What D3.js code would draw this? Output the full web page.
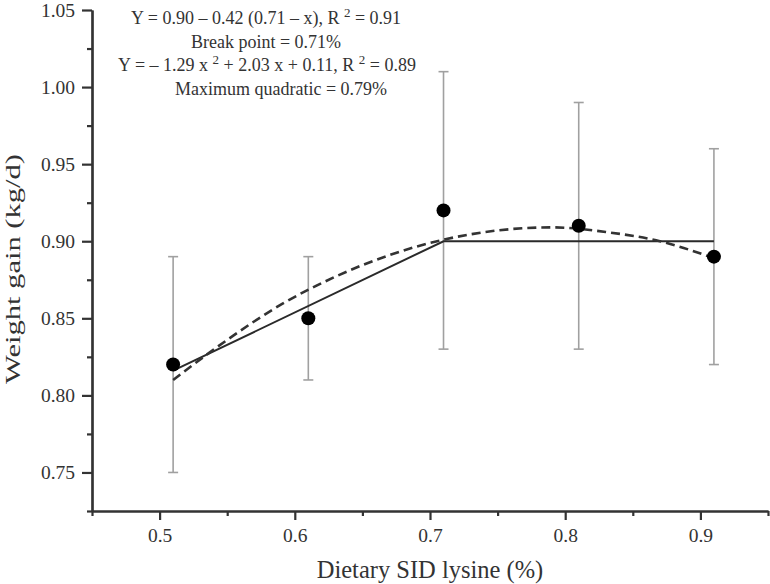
<!DOCTYPE html>
<html>
<head>
<meta charset="utf-8">
<script src="https://cdn.jsdelivr.net/npm/d3@7"></script>
<style>
  body { margin: 0; background: #fff; }
  svg { font-family: "Liberation Serif", "DejaVu Serif", serif; }
</style>
</head>
<body>
<script>
'use strict';
// observed means and error bars
var lysine = [0.51, 0.61, 0.71, 0.81, 0.91];
var gain = [0.82, 0.85, 0.92, 0.91, 0.89];
var gainLow = [0.75, 0.81, 0.83, 0.83, 0.82];
var gainHigh = [0.89, 0.89, 1.01, 0.99, 0.96];

// broken-line fit
var brokenX = [0.51, 0.71, 0.91];
var brokenY = [0.816, 0.90, 0.90];

// quadratic fit
var quadX = [0.51, 0.55, 0.59, 0.63, 0.67, 0.71, 0.75, 0.79, 0.83, 0.87, 0.91];
var quadY = [0.810, 0.836, 0.859, 0.877, 0.891, 0.901, 0.907, 0.909, 0.906, 0.900, 0.889];

var xMajor = [0.5, 0.6, 0.7, 0.8, 0.9];
var xMinor = [0.45, 0.55, 0.65, 0.75, 0.85, 0.95];
var yMajor = [0.75, 0.80, 0.85, 0.90, 0.95, 1.00, 1.05];
var yMinor = [0.725, 0.775, 0.825, 0.875, 0.925, 0.975, 1.025];

var W = 770, H = 584;
var svg = d3.select("body").append("svg")
    .attr("width", W).attr("height", H);

var x = d3.scaleLinear().domain([0.45, 0.95]).range([92, 768]);
var y = d3.scaleLinear().domain([0.725, 1.05]).range([511, 10]);

// error bars
var eb = svg.append("g").attr("class", "errorbars")
    .attr("stroke", "#a0a0a0").attr("stroke-width", 1.6);
lysine.forEach(function(v, i) {
    eb.append("line")
        .attr("x1", x(v)).attr("x2", x(v))
        .attr("y1", y(gainLow[i])).attr("y2", y(gainHigh[i]));
    [gainLow[i], gainHigh[i]].forEach(function(e) {
        eb.append("line")
            .attr("x1", x(v) - 5).attr("x2", x(v) + 5)
            .attr("y1", y(e)).attr("y2", y(e));
    });
});

// fitted lines
var line = d3.line().x(d => x(d[0])).y(d => y(d[1]));
svg.append("path")
    .datum(brokenX.map((v, i) => [v, brokenY[i]]))
    .attr("d", line)
    .attr("fill", "none").attr("stroke", "#2a2a2a").attr("stroke-width", 2);

svg.append("path")
    .datum(quadX.map((v, i) => [v, quadY[i]]))
    .attr("d", line.curve(d3.curveMonotoneX))
    .attr("fill", "none").attr("stroke", "#333").attr("stroke-width", 2.6)
    .attr("stroke-dasharray", "9,5");

// points
svg.append("g").selectAll("circle")
    .data(lysine)
    .enter().append("circle")
        .attr("cx", d => x(d))
        .attr("cy", (d, i) => y(gain[i]))
        .attr("r", 7)
        .attr("fill", "#000");

// axes
var axisColor = "#333";
var xAxis = svg.append("g").attr("transform", "translate(0,511)")
    .call(d3.axisBottom(x).tickValues(xMajor).tickSize(9).tickSizeOuter(0)
        .tickFormat(d3.format(".1f")));
var xAxisMinor = svg.append("g").attr("transform", "translate(0,511)")
    .call(d3.axisBottom(x).tickValues(xMinor).tickSize(5).tickSizeOuter(0).tickFormat(""));
var yAxis = svg.append("g").attr("transform", "translate(92,0)")
    .call(d3.axisLeft(y).tickValues(yMajor).tickSize(10).tickSizeOuter(0)
        .tickFormat(d3.format(".2f")));
var yAxisMinor = svg.append("g").attr("transform", "translate(92,0)")
    .call(d3.axisLeft(y).tickValues(yMinor).tickSize(5).tickSizeOuter(0).tickFormat(""));

[xAxis, xAxisMinor, yAxis, yAxisMinor].forEach(function(g) {
    g.selectAll("path").attr("stroke", axisColor).attr("stroke-width", 2.2);
    g.selectAll("line").attr("stroke", axisColor).attr("stroke-width", 2.2);
});
xAxis.selectAll("text")
    .attr("font-family", "Liberation Serif").attr("font-size", 19.5)
    .attr("fill", "#333").attr("dy", "0.98em");
yAxis.selectAll("text")
    .attr("font-family", "Liberation Serif").attr("font-size", 19.5)
    .attr("fill", "#333").attr("dx", "-0.2em");

// axis titles
svg.append("text")
    .attr("x", 430).attr("y", 578)
    .attr("text-anchor", "middle")
    .attr("font-size", 24.5).attr("fill", "#333")
    .text("Dietary SID lysine (%)");
svg.append("text")
    .attr("transform", "translate(20,269) rotate(-90)")
    .attr("text-anchor", "middle")
    .attr("font-size", 21.5).attr("fill", "#333")
    .attr("textLength", 230).attr("lengthAdjust", "spacingAndGlyphs")
    .text("Weight gain (kg/d)");

// equations
var notes = svg.append("g").attr("font-size", 18).attr("fill", "#333")
    .attr("text-anchor", "middle");

function eq(cx, cy, parts) {
    var t = notes.append("text").attr("x", cx).attr("y", cy);
    parts.forEach(function(p) {
        if (typeof p === "string") {
            t.append("tspan").text(p);
        } else {
            t.append("tspan").attr("dy", -7).attr("font-size", 13).text(p.exp);
            t.append("tspan").attr("dy", 7).text(p.after);
        }
    });
}
eq(266, 24, ["Y = 0.90 \u2013 0.42 (0.71 \u2013 x), R ", {exp: "2", after: " = 0.91"}]);
eq(266, 48, ["Break point = 0.71%"]);
eq(267, 71, ["Y = \u2013 1.29 x ", {exp: "2", after: " + 2.03 x + 0.11, R "}, {exp: "2", after: " = 0.89"}]);
eq(281, 95, ["Maximum quadratic = 0.79%"]);
</script>
</body>
</html>
